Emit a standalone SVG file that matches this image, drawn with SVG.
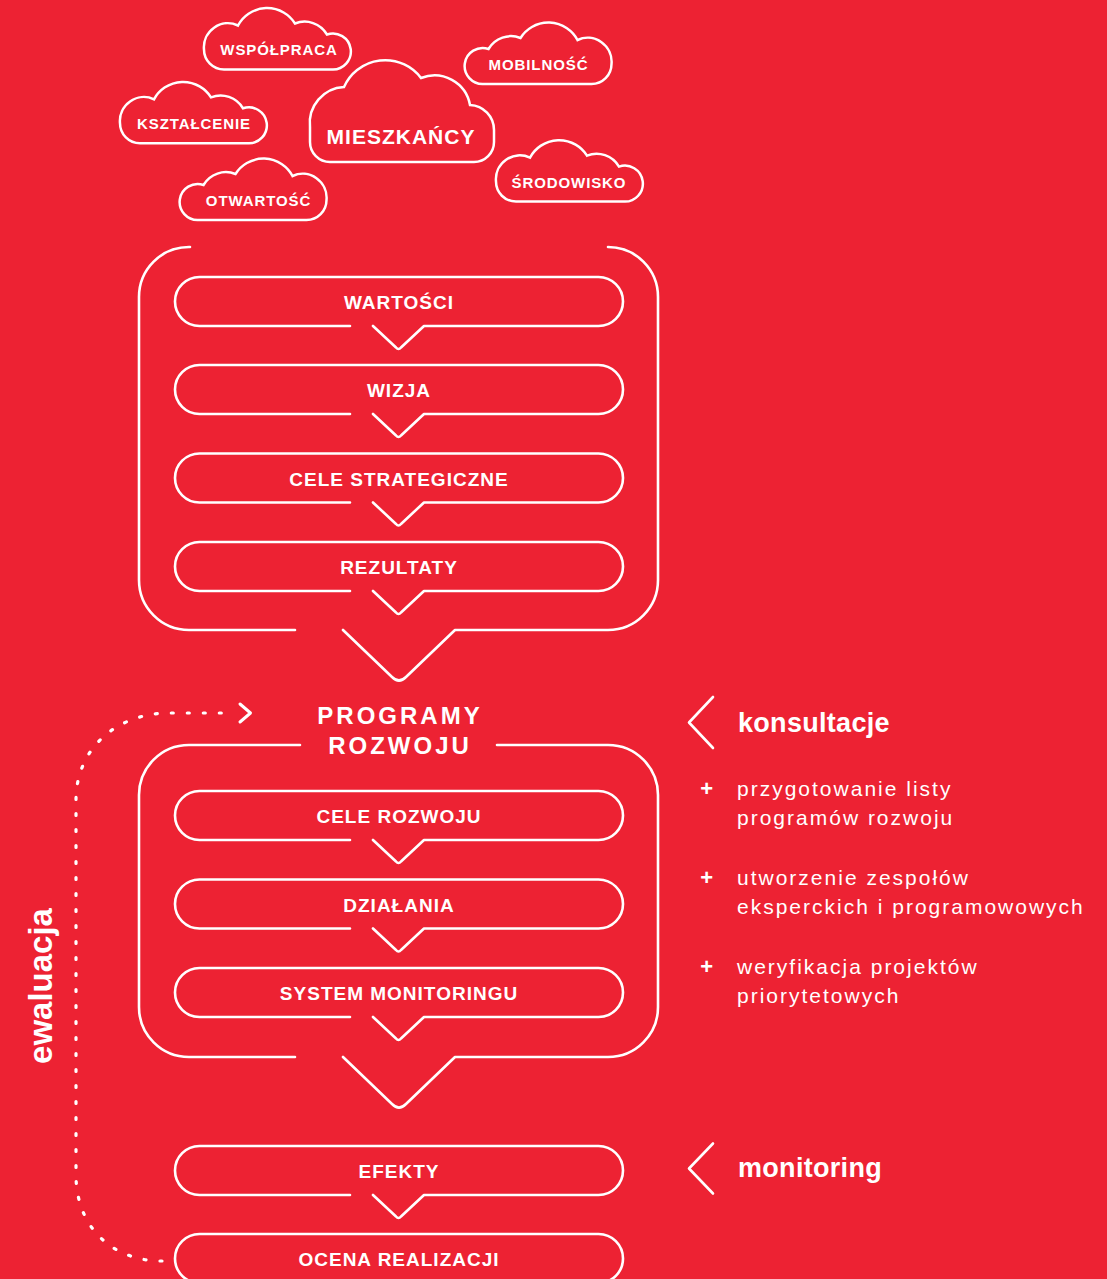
<svg xmlns="http://www.w3.org/2000/svg" width="1107" height="1279" viewBox="0 0 1107 1279">
<style>
.ln{fill:none;stroke:#fff;stroke-width:2.6;stroke-linecap:round;stroke-linejoin:round}
.cl{fill:none;stroke:#fff;stroke-width:2.5;stroke-linejoin:miter}
.dot{fill:none;stroke:#fff;stroke-width:3.2;stroke-linecap:round;stroke-dasharray:2 14}
.t{font-family:"Liberation Sans",Arial,sans-serif;font-weight:700;fill:#fff;text-anchor:middle}
.ct{font-size:15px;letter-spacing:0.9px}
.big{font-size:21px;letter-spacing:1px}
.pt{font-size:19px;letter-spacing:1px}
.ttl{font-size:24px;letter-spacing:3px}
.side{font-family:"Liberation Sans",Arial,sans-serif;font-weight:700;fill:#fff;font-size:27px;letter-spacing:0.3px}
.bl{font-family:"Liberation Sans",Arial,sans-serif;fill:#fff;font-size:21px;letter-spacing:2px}
.plus{font-family:"Liberation Sans",Arial,sans-serif;font-weight:700;fill:#fff;font-size:22px;text-anchor:middle}
</style>
<defs>
<path id="cloudA" class="cl" d="M 20 0 A 20 20 0 0 1 0 -20 A 24 24 0 0 1 34 -44 A 33 33 0 0 1 91 -46 A 26 26 0 0 1 123 -35 A 18 18 0 1 1 128 0 Z"/>
<path id="pill" class="ln" d="M 350 49 L 199.5 49 A 24.5 24.5 0 0 1 199.5 0 L 598.5 0 A 24.5 24.5 0 0 1 598.5 49 L 424 49 L 401 70.5 Q 398.5 73.5 396 70.5 L 373 49"/>
</defs>
<rect width="1107" height="1279" fill="#ED2233"/>

<g id="cloud-wspolpraca"><use href="#cloudA" transform="translate(204,69.5)"/><text class="t ct" x="279" y="55">WSPÓŁPRACA</text></g>
<g id="cloud-mobilnosc"><use href="#cloudA" transform="translate(611.5,84) scale(-1,1)"/><text class="t ct" x="538.5" y="70">MOBILNOŚĆ</text></g>
<g id="cloud-ksztalcenie"><use href="#cloudA" transform="translate(120,143.3)"/><text class="t ct" x="194" y="128.5">KSZTAŁCENIE</text></g>
<g id="cloud-mieszkancy"><path class="cl" transform="translate(310,162)" d="M 20 0 A 20 20 0 0 1 0 -20 L 0 -35 A 36 36 0 0 1 34 -75 A 45 45 0 0 1 111 -84 A 36 36 0 0 1 160 -57 A 25 25 0 0 1 184 -32 L 184 -20 A 20 20 0 0 1 164 0 Z"/><text class="t big" x="401" y="143.5">MIESZKAŃCY</text></g>
<g id="cloud-srodowisko"><use href="#cloudA" transform="translate(496,201.6)"/><text class="t ct" x="569" y="187.5">ŚRODOWISKO</text></g>
<g id="cloud-otwartosc"><use href="#cloudA" transform="translate(326.5,220) scale(-1,1)"/><text class="t ct" x="258.5" y="206">OTWARTOŚĆ</text></g>

<g id="strategia">
<path class="ln" d="M 190 247 L 189 247 A 50 50 0 0 0 139 297 L 139 580 A 50 50 0 0 0 189 630 L 295 630 M 343 630 L 392 677 Q 399 684 406 677 L 455 630 L 608 630 A 50 50 0 0 0 658 580 L 658 297 A 50 50 0 0 0 608 247"/>
</g>
<g id="wartosci"><use href="#pill" y="277"/><text class="t pt" x="399" y="309">WARTOŚCI</text></g>
<g id="wizja"><use href="#pill" y="365"/><text class="t pt" x="399" y="397">WIZJA</text></g>
<g id="cele-strategiczne"><use href="#pill" y="453.5"/><text class="t pt" x="399" y="485.5">CELE STRATEGICZNE</text></g>
<g id="rezultaty"><use href="#pill" y="542"/><text class="t pt" x="399" y="574">REZULTATY</text></g>

<g id="programy-rozwoju">
<path class="ln" d="M 300 745 L 189 745 A 50 50 0 0 0 139 795 L 139 1007 A 50 50 0 0 0 189 1057 L 295 1057 M 343 1057 L 392 1104 Q 399 1111 406 1104 L 455 1057 L 608 1057 A 50 50 0 0 0 658 1007 L 658 795 A 50 50 0 0 0 608 745 L 497 745"/>
<text class="t ttl" x="400" y="723.5">PROGRAMY</text>
<text class="t ttl" x="400" y="754">ROZWOJU</text>
</g>
<g id="cele-rozwoju"><use href="#pill" y="791"/><text class="t pt" x="399" y="823">CELE ROZWOJU</text></g>
<g id="dzialania"><use href="#pill" y="879.5"/><text class="t pt" x="399" y="911.5">DZIAŁANIA</text></g>
<g id="system-monitoringu"><use href="#pill" y="968"/><text class="t pt" x="399" y="1000">SYSTEM MONITORINGU</text></g>
<g id="efekty"><use href="#pill" y="1146"/><text class="t pt" x="399" y="1178">EFEKTY</text></g>
<g id="ocena-realizacji"><rect class="ln" x="175" y="1234" width="448" height="49" rx="24.5"/><text class="t pt" x="399" y="1266">OCENA REALIZACJI</text></g>

<g id="konsultacje">
<path class="ln" d="M 713 697 L 689 722.5 L 713 748"/>
<text class="side" x="738" y="731.5">konsultacje</text>
<text class="plus" x="706.7" y="796">+</text>
<text class="bl" x="737" y="796">przygotowanie listy</text>
<text class="bl" x="737" y="824.5">programów rozwoju</text>
<text class="plus" x="706.7" y="885">+</text>
<text class="bl" x="737" y="885">utworzenie zespołów</text>
<text class="bl" x="737" y="913.5">eksperckich i programowowych</text>
<text class="plus" x="706.7" y="974">+</text>
<text class="bl" x="737" y="974">weryfikacja projektów</text>
<text class="bl" x="737" y="1002.5">priorytetowych</text>
</g>
<g id="monitoring">
<path class="ln" d="M 713 1143.5 L 689 1168.5 L 713 1193.5"/>
<text class="side" x="738" y="1176.5">monitoring</text>
</g>
<g id="ewaluacja">
<text class="t" style="font-size:33px" transform="translate(52.3,986) rotate(-90)">ewaluacja</text>
</g>

<g id="connectors">
<path class="dot" d="M 162 1261 C 110 1261 76 1225 76 1175 L 76 800 C 76 750 115 713 170 713 L 232 713"/>
<path class="ln" style="stroke-width:3" d="M 240 704 L 250.5 713 L 240 722"/>
</g>
</svg>
